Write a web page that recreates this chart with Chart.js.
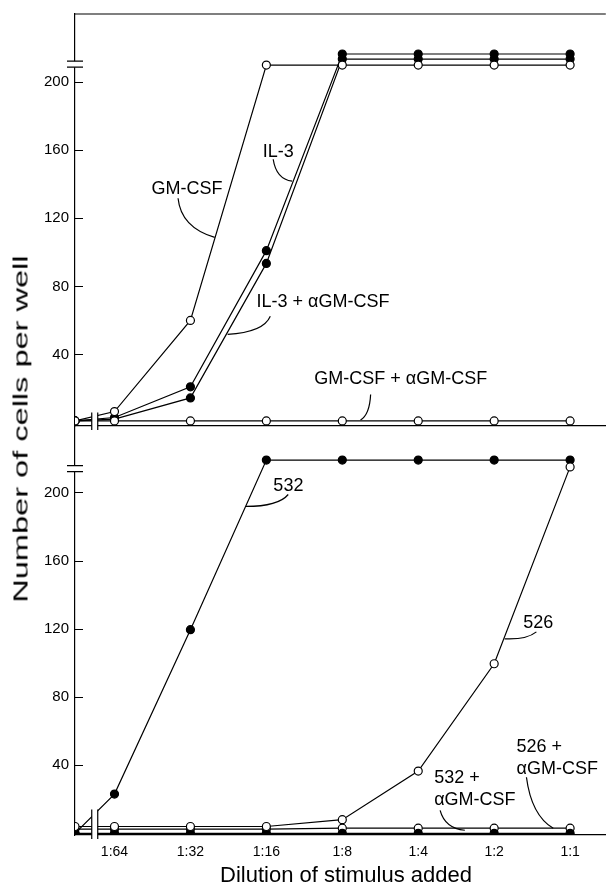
<!DOCTYPE html>
<html>
<head>
<meta charset="utf-8">
<script src="https://cdn.jsdelivr.net/npm/chart.js@4.4.1/dist/chart.umd.min.js"></script>
<style>
    html, body { margin: 0; padding: 0; background: #fff; }
    body {
        width: 611px; height: 890px; position: relative; overflow: hidden;
        font-family: "Liberation Sans", Arial, sans-serif; color: #000;
    }
    .panel { position: absolute; left: 0; width: 611px; }
    #topPanel { top: 0; height: 432px; }
    #bottomPanel { top: 412px; height: 478px; }
    #yTitle {
        position: absolute; left: 20px; top: 429px; white-space: nowrap;
        font-size: 21px; line-height: 1;
        transform: translate(-50%, -50%) rotate(-90deg) scaleX(1.55);
    }
    #xTitle {
        position: absolute; left: 346px; top: 875px; white-space: nowrap;
        font-size: 22px; line-height: 1;
        transform: translate(-50%, -50%);
    }
</style>
</head>
<body>
<div class="panel" id="topPanel"><canvas id="topChart" width="611" height="432"></canvas></div>
<div class="panel" id="bottomPanel"><canvas id="bottomChart" width="611" height="478"></canvas></div>
<div id="yTitle">Number of cells per well</div>
<div id="xTitle">Dilution of stimulus added</div>

<script>
// ---------------------------
// Data
// ---------------------------
// x steps: the control (no stimulus) sits on the y axis, then one step per two-fold dilution
const dilutionLabels = ['1:64', '1:32', '1:16', '1:8', '1:4', '1:2', '1:1'];
const xSteps = [0.48, 1, 2, 3, 4, 5, 6, 7];
const yTickValues = [40, 80, 120, 160, 200];

// top panel
const gmCsf     = [1, 6.5, 60, 210, 210, 210, 210, 210];
const il3       = [1, 3, 21, 101, 216.5, 216.5, 216.5, 216.5];
const il3Anti   = [1, 2, 14.5, 93.5, 213.5, 213.5, 213.5, 213.5];
const gmCsfAnti = [1, 1, 1, 1, 1, 1, 1, 1];

// bottom panel
const cells532     = [0, 23, 119.5, 219, 219, 219, 219, 219];
const cells526     = [4, 4, 4, 4, 8, 36.5, 99.5, 215];
const cells532Anti = [0, 0, 0, 0, 0, 0, 0, 0];
const cells526Anti = [2.5, 2.5, 2.5, 2.5, 3, 3, 3, 3];

const INK = '#000';
const FONT = '"Liberation Sans", Arial, sans-serif';

function series(label, values, filled, order) {
    return {
        label,
        data: values.map((v, i) => ({ x: xSteps[i], y: v })),
        borderColor: INK,
        borderWidth: 1.2,
        pointRadius: 4,
        pointBorderWidth: 1.2,
        pointBorderColor: INK,
        pointBackgroundColor: filled ? INK : '#fff',
        tension: 0,
        order,
    };
}

// ---------------------------
// Inward ticks, axis breaks, frame line and the curved callout labels
// ---------------------------
const panelMarks = {
    id: 'panelMarks',
    afterDatasetsDraw(chart, args, opts) {
        const { ctx, chartArea: a, scales: { x, y } } = chart;
        ctx.save();
        ctx.strokeStyle = INK;
        ctx.fillStyle = INK;
        ctx.lineWidth = 1.2;

        ctx.beginPath();
        if (opts.frameTop) {
            ctx.moveTo(a.left, a.top);
            ctx.lineTo(a.right, a.top);
        }
        // y ticks point into the plot
        y.ticks.forEach(t => {
            const py = Math.round(y.getPixelForValue(t.value)) + 0.5;
            ctx.moveTo(a.left, py);
            ctx.lineTo(a.left + 8, py);
        });
        ctx.stroke();

        // y axis break (double dash)
        const by = y.getPixelForValue(opts.yBreak);
        ctx.fillStyle = '#fff';
        ctx.fillRect(a.left - 2, by - 3, 4, 6);
        ctx.beginPath();
        [by - 3, by + 3].forEach(py => { ctx.moveTo(a.left - 8, py); ctx.lineTo(a.left + 8, py); });
        ctx.stroke();

        // x axis break (double bar)
        const bx = x.getPixelForValue(opts.xBreak);
        const top = y.getPixelForValue(opts.xBreakTop);
        ctx.fillRect(bx - 3, top, 6, a.bottom + 4 - top);
        ctx.beginPath();
        [bx - 3, bx + 3].forEach(px => { ctx.moveTo(px, top); ctx.lineTo(px, a.bottom + 4); });
        ctx.stroke();

        // labels
        ctx.fillStyle = INK;
        ctx.font = '18px ' + FONT;
        ctx.textBaseline = 'middle';
        opts.notes.forEach(n => {
            ctx.textAlign = n.align || 'center';
            const tx = x.getPixelForValue(n.at[0]);
            const ty = y.getPixelForValue(n.at[1]);
            n.text.forEach((t, i) => ctx.fillText(t, tx, ty + i * 22));
            const [p0, c, p1] = n.leader;
            ctx.beginPath();
            ctx.moveTo(x.getPixelForValue(p0[0]), y.getPixelForValue(p0[1]));
            ctx.quadraticCurveTo(x.getPixelForValue(c[0]), y.getPixelForValue(c[1]),
                                 x.getPixelForValue(p1[0]), y.getPixelForValue(p1[1]));
            ctx.stroke();
        });
        ctx.restore();
    }
};

// keep the plot box fixed: no extra room asked for by tick labels
function noLabelPadding(s) {
    s.paddingTop = 0;
    s.paddingBottom = 0;
    s.paddingLeft = 0;
    s.paddingRight = 0;
}

function panelOptions(showXTicks, yMin, yMax, marks) {
    return {
        responsive: false,
        animation: false,
        devicePixelRatio: 1,
        layout: { padding: { top: 14, left: 0, right: 0, bottom: 0 } },
        plugins: { legend: { display: false }, tooltip: { enabled: false }, panelMarks: marks },
        scales: {
            x: {
                type: 'linear',
                min: 0.48,
                max: 7.47,
                grid: { display: false, drawTicks: false },
                border: { display: true, color: INK, width: 1.2 },
                ticks: {
                    display: showXTicks,
                    color: INK,
                    font: { family: FONT, size: 14 },
                    padding: 9,
                    maxRotation: 0,
                    autoSkip: false,
                    callback: (v, i) => dilutionLabels[i],
                },
                afterBuildTicks: s => { s.ticks = dilutionLabels.map((_, i) => ({ value: i + 1 })); },
                afterFit: s => { s.height = showXTicks ? 55 : 6; noLabelPadding(s); },
            },
            y: {
                min: yMin,
                max: yMax,
                grid: { display: false, drawTicks: false },
                border: { display: true, color: INK, width: 1.2 },
                ticks: { color: INK, font: { family: FONT, size: 15 }, padding: 6 },
                afterBuildTicks: s => { s.ticks = yTickValues.map(v => ({ value: v })); },
                afterFit: s => { s.width = 75; noLabelPadding(s); },
            },
        },
    };
}

// ---------------------------
// Top panel: GM-CSF / IL-3
// ---------------------------
new Chart(document.getElementById('topChart'), {
    type: 'line',
    data: {
        datasets: [
            series('GM-CSF', gmCsf, false, 1),
            series('GM-CSF + αGM-CSF', gmCsfAnti, false, 2),
            series('IL-3 + αGM-CSF', il3Anti, true, 3),
            series('IL-3', il3, true, 4),
        ]
    },
    options: panelOptions(false, -2, 240, {
        frameTop: true,
        yBreak: 210.5,
        xBreak: 0.74,
        xBreakTop: 6,
        notes: [
            { text: ['GM-CSF'], at: [1.954, 137], leader: [[1.837, 131.8], [1.876, 114.7], [2.32, 108.8]] },
            { text: ['IL-3'], at: [3.157, 158.8], leader: [[3.09, 154.7], [3.13, 143], [3.34, 141.8]] },
            { text: ['IL-3 + αGM-CSF'], at: [3.745, 70.6], leader: [[3.052, 62.4], [2.96, 52.9], [2.49, 51.8]] },
            { text: ['GM-CSF + αGM-CSF'], at: [4.77, 25.3], leader: [[4.373, 16.5], [4.36, 4.7], [4.24, 1.5]] },
        ]
    }),
    plugins: [panelMarks],
});

// ---------------------------
// Bottom panel: cell lines 532 / 526
// ---------------------------
new Chart(document.getElementById('bottomChart'), {
    type: 'line',
    data: {
        datasets: [
            series('526', cells526, false, 1),
            series('532', cells532, true, 2),
            series('532 + αGM-CSF', cells532Anti, true, 3),
            series('526 + αGM-CSF', cells526Anti, false, 4),
        ]
    },
    options: panelOptions(true, -1, 239, {
        frameTop: false,
        yBreak: 214,
        xBreak: 0.74,
        xBreakTop: 14,
        notes: [
            { text: ['532'], at: [3.29, 203.5], leader: [[3.288, 198.8], [3.157, 191.8], [2.73, 191.8]] },
            { text: ['526'], at: [6.58, 123.5], leader: [[6.556, 118.2], [6.425, 113.5], [6.137, 114.1]] },
            { text: ['532 +', 'αGM-CSF'], align: 'left', at: [5.21, 32.4], leader: [[5.288, 13.5], [5.353, 2.9], [5.614, 1.8]] },
            { text: ['526 +', 'αGM-CSF'], align: 'left', at: [6.294, 50.9], leader: [[6.425, 32.9], [6.49, 10.6], [6.778, 2.9]] },
        ]
    }),
    plugins: [panelMarks],
});
</script>
</body>
</html>
